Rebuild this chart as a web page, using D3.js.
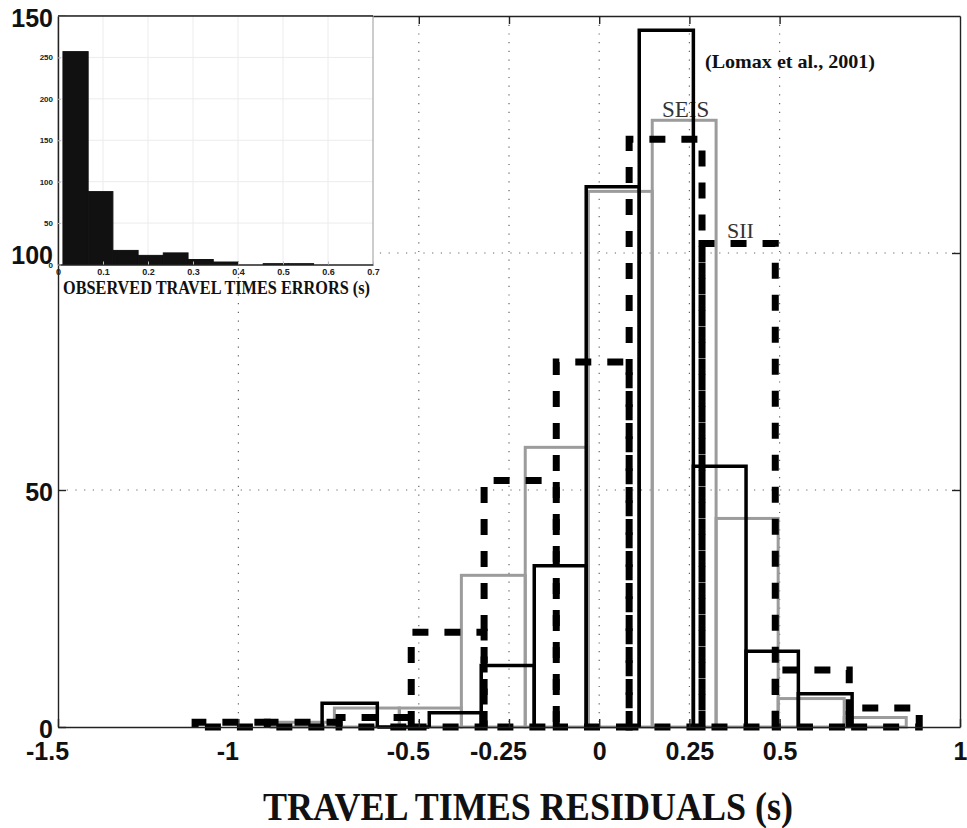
<!DOCTYPE html>
<html><head><meta charset="utf-8">
<script src="https://cdn.jsdelivr.net/npm/d3@7"></script>
<style>
  body { margin: 0; background: #fff; }
</style>
</head><body>
<svg id="chart" width="967" height="828"></svg>
<script>
// Travel time residual histograms: bin edges (s) and counts per bin
const lomaxEdges  = [-0.768, -0.615, -0.471, -0.327, -0.180, -0.036, 0.111, 0.261, 0.407, 0.552, 0.701];
const lomaxCounts = [5, 0, 3, 13, 34, 114, 147, 55, 16, 7];
const seisEdges   = [-0.909, -0.734, -0.554, -0.382, -0.205, -0.030, 0.147, 0.324, 0.496, 0.679, 0.851];
const seisCounts  = [1, 4, 4, 32, 59, 113, 128, 44, 6, 2];
const siiEdges    = [-1.120, -0.920, -0.721, -0.521, -0.319, -0.119, 0.083, 0.285, 0.488, 0.693, 0.887];
const siiCounts   = [1, 1, 2, 20, 52, 77, 124, 102, 12, 4];

// Observed travel time errors (inset histogram)
const errEdges  = [0.011, 0.067, 0.122, 0.178, 0.234, 0.289, 0.345, 0.401, 0.456, 0.512, 0.568];
const errCounts = [257, 88, 17, 11, 14, 6, 3, 0, 1, 1];

// Axis ticks and grid positions
const xTickValues = [-1.5, -1, -0.5, -0.25, 0, 0.25, 0.5, 1];
const xGridValues = [-1, -0.5, -0.25, 0, 0.25, 0.5];
const yTickValues = [0, 50, 100, 150];
const yGridValues = [50, 100];
const insetXTicks = [0, 0.1, 0.2, 0.3, 0.4, 0.5, 0.6, 0.7];
const insetYTicks = [0, 50, 100, 150, 200, 250];

const svg = d3.select("#chart");
const SANS = "'Liberation Sans', Arial, Helvetica, sans-serif";
const SERIF = "'Liberation Serif', 'Times New Roman', Times, serif";

const x = d3.scaleLinear().domain([-1.5, 1]).range([58, 960]);
const y = d3.scaleLinear().domain([0, 150]).range([727, 16]);

svg.append("rect").attr("width", 967).attr("height", 828).attr("fill", "#fff");

// dotted grid
const grid = svg.append("g").attr("stroke", "#666").attr("stroke-width", 1.2)
  .attr("stroke-dasharray", "1.2,7.5");
grid.selectAll(".gx").data(xGridValues).join("line")
  .attr("x1", d => x(d)).attr("x2", d => x(d))
  .attr("y1", y(150)).attr("y2", y(0));
grid.selectAll(".gy").data(yGridValues).join("line")
  .attr("y1", d => y(d)).attr("y2", d => y(d))
  .attr("x1", x(-1.5)).attr("x2", x(1));

// series labels (under the outlines)
svg.append("text").text("SEIS").attr("x", 662).attr("y", 117)
  .attr("font-family", SERIF).attr("font-size", 23).attr("fill", "#333");
svg.append("text").text("SII").attr("x", 727).attr("y", 238)
  .attr("font-family", SERIF).attr("font-size", 22).attr("fill", "#333");
svg.append("text").text("(Lomax et al., 2001)").attr("x", 705).attr("y", 68)
  .attr("font-family", SERIF).attr("font-weight", "bold").attr("font-size", 19)
  .attr("textLength", 170).attr("lengthAdjust", "spacingAndGlyphs").attr("fill", "#111");

function bins(edges, counts) {
  return counts.map((c, i) => ({ x0: edges[i], x1: edges[i + 1], c }));
}

// SEIS: grey outlined bars
svg.append("g").selectAll("rect").data(bins(seisEdges, seisCounts)).join("rect")
  .attr("x", d => x(d.x0)).attr("width", d => x(d.x1) - x(d.x0))
  .attr("y", d => y(d.c)).attr("height", d => y(0) - y(d.c))
  .attr("fill", "none").attr("stroke", "#9c9c9c").attr("stroke-width", 3);

// Lomax et al. (2001): thin black bars
svg.append("g").selectAll("path").data(bins(lomaxEdges, lomaxCounts)).join("path")
  .attr("d", d => `M${x(d.x0)},${y(0)}V${y(d.c)}H${x(d.x1)}V${y(0)}`)
  .attr("fill", "none").attr("stroke", "#000").attr("stroke-width", 3.5);

// SII: heavy dashed bars
svg.append("g").selectAll("path").data(bins(siiEdges, siiCounts)).join("path")
  .attr("d", d => `M${x(d.x0)},${y(0)}V${y(d.c)}H${x(d.x1)}V${y(0)}Z`)
  .attr("fill", "none").attr("stroke", "#000").attr("stroke-width", 7)
  .attr("stroke-dasharray", "16,16").attr("stroke-linecap", "butt");

// axes box with inward ticks
const tickFmt = d => String(d);
function styleAxis(g) {
  g.selectAll(".domain").attr("stroke", "#222").attr("stroke-width", 1.4);
  g.selectAll(".tick line").attr("stroke", "#222").attr("stroke-width", 1.4);
}
const xAxisB = svg.append("g").attr("transform", `translate(0,${y(0)})`)
  .call(d3.axisBottom(x).tickValues(xTickValues).tickFormat(tickFmt)
    .tickSizeInner(-8).tickSizeOuter(0).tickPadding(15));
styleAxis(xAxisB);
xAxisB.selectAll("text")
  .attr("font-family", SANS).attr("font-weight", "bold").attr("font-size", 25).attr("fill", "#111")
  .attr("dx", d => d < 0 ? -11 : 0);

const xAxisT = svg.append("g").attr("transform", `translate(0,${y(150)})`)
  .call(d3.axisTop(x).tickValues(xGridValues).tickFormat("").tickSizeInner(-8).tickSizeOuter(0));
styleAxis(xAxisT);

const yAxisL = svg.append("g").attr("transform", `translate(${x(-1.5)},0)`)
  .call(d3.axisLeft(y).tickValues(yTickValues).tickFormat(tickFmt)
    .tickSizeInner(-8).tickSizeOuter(0).tickPadding(5));
styleAxis(yAxisL);
yAxisL.selectAll("text")
  .attr("font-family", SANS).attr("font-weight", "bold").attr("font-size", 25).attr("fill", "#111")
  .attr("dy", "0.42em");

const yAxisR = svg.append("g").attr("transform", `translate(${x(1)},0)`)
  .call(d3.axisRight(y).tickValues(yGridValues).tickFormat("").tickSizeInner(-8).tickSizeOuter(0));
styleAxis(yAxisR);

svg.append("text").text("TRAVEL TIMES RESIDUALS (s)")
  .attr("x", 263).attr("y", 820)
  .attr("font-family", SERIF).attr("font-weight", "bold").attr("font-size", 40)
  .attr("textLength", 530).attr("lengthAdjust", "spacingAndGlyphs").attr("fill", "#111");

// ---- inset: observed travel time errors ----
const ix = d3.scaleLinear().domain([0, 0.7]).range([58, 373]);
const iy = d3.scaleLinear().domain([0, 300]).range([264.5, 16]);
const inset = svg.append("g");
inset.append("rect").attr("x", ix(0)).attr("y", iy(300))
  .attr("width", ix(0.7) - ix(0)).attr("height", iy(0) - iy(300)).attr("fill", "#fff");

inset.append("g").selectAll("line").data(insetXTicks.slice(1, -1)).join("line")
  .attr("x1", d => ix(d)).attr("x2", d => ix(d)).attr("y1", iy(0)).attr("y2", iy(300))
  .attr("stroke", "#ececec").attr("stroke-width", 1);
inset.append("g").selectAll("line").data(insetYTicks.slice(1)).join("line")
  .attr("y1", d => iy(d)).attr("y2", d => iy(d)).attr("x1", ix(0)).attr("x2", ix(0.7))
  .attr("stroke", "#ececec").attr("stroke-width", 1);

inset.append("g").selectAll("rect").data(bins(errEdges, errCounts)).join("rect")
  .attr("x", d => ix(d.x0)).attr("width", d => ix(d.x1) - ix(d.x0))
  .attr("y", d => iy(d.c)).attr("height", d => iy(0) - iy(d.c))
  .attr("fill", "#111").attr("stroke", "#111").attr("stroke-width", 1);

// inset frame
inset.append("line").attr("x1", ix(0.7)).attr("x2", ix(0.7)).attr("y1", iy(0)).attr("y2", iy(300))
  .attr("stroke", "#aaa").attr("stroke-width", 1.2);
inset.append("line").attr("x1", ix(0)).attr("x2", ix(0.7)).attr("y1", iy(300)).attr("y2", iy(300))
  .attr("stroke", "#222").attr("stroke-width", 1.4);

const ixAxis = inset.append("g").attr("transform", `translate(0,${iy(0)})`)
  .call(d3.axisBottom(ix).tickValues(insetXTicks).tickFormat(tickFmt)
    .tickSizeInner(-3).tickSizeOuter(0).tickPadding(4));
ixAxis.selectAll(".domain").attr("stroke", "#222").attr("stroke-width", 1.3);
ixAxis.selectAll(".tick line").attr("stroke", "#bbb");
ixAxis.selectAll("text").attr("font-family", SANS).attr("font-weight", "bold")
  .attr("font-size", 9).attr("fill", "#222");

const iyAxis = inset.append("g").attr("transform", `translate(${ix(0)},0)`)
  .call(d3.axisLeft(iy).tickValues(insetYTicks).tickFormat(tickFmt)
    .tickSizeInner(-3).tickSizeOuter(0).tickPadding(5));
iyAxis.selectAll(".domain").attr("stroke", "#222").attr("stroke-width", 1.4);
iyAxis.selectAll(".tick line").attr("stroke", "#bbb");
iyAxis.selectAll("text").attr("font-family", SANS).attr("font-weight", "bold")
  .attr("font-size", 8).attr("fill", "#222");

inset.append("text").text("OBSERVED TRAVEL TIMES ERRORS (s)")
  .attr("x", 63).attr("y", 294)
  .attr("font-family", SERIF).attr("font-weight", "bold").attr("font-size", 19)
  .attr("textLength", 307).attr("lengthAdjust", "spacingAndGlyphs").attr("fill", "#111");
</script>
</body></html>
